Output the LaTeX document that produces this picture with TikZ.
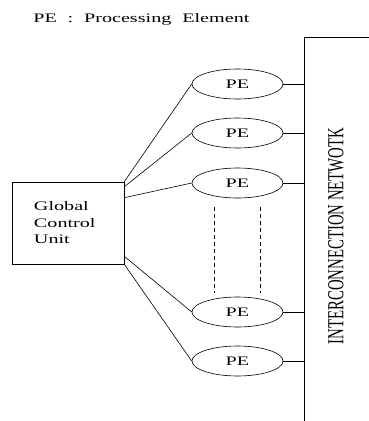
\documentclass[tikz,border=0pt]{standalone}
\usepackage{fontspec}
\setmainfont{Liberation Serif}
\usepackage{graphicx}
\usetikzlibrary{shapes.geometric, calc}
\newcommand{\widetxt}[1]{\scalebox{1.55}[1]{#1}}

\begin{document}
\begin{tikzpicture}[x=1pt, y=-1pt, line width=0.6pt,
    pe/.style={ellipse, draw, minimum width=91pt, minimum height=30pt, inner sep=0pt, font=\fontsize{13}{15}\selectfont},
    dashlink/.style={dash pattern=on 4pt off 3pt}]
  \useasboundingbox (0,0) rectangle (369,421);

  \node[anchor=base west, inner sep=0pt, font=\fontsize{13}{15}\selectfont] (title) at (33,22.7)
    {\widetxt{PE\hspace{7pt}:\hspace{7pt}Processing\hspace{7pt}Element}};

  \node[draw, minimum width=112pt, minimum height=82pt, text width=68pt, inner xsep=22pt, align=left,
        font=\fontsize{13}{16.5}\selectfont] (gcu) at (68,223)
    {\widetxt{Global}\\\widetxt{Control}\\\widetxt{Unit}};

  \foreach \i/\y in {1/84, 2/133, 3/183, 4/312, 5/361} {
    \node[pe] (pe\i) at (237.5,\y) {\widetxt{PE}};
  }

  % interconnection network
  \coordinate (nettop) at (304,37);
  \coordinate (netright) at (369,37);
  \coordinate (netbot) at (304,421);
  \draw (netright) -- (nettop) -- (netbot);
  \node[rotate=90, inner sep=0pt, font=\fontsize{14.8}{16}\selectfont] (netlabel) at (336,236)
    {\scalebox{1}[1.55]{INTERCONNECTION NETWOTK}};

  \foreach \i in {1,...,5} {
    \draw (pe\i.east) -- (pe\i.east -| nettop);
  }

  \draw (gcu.north east) -- (pe1.west);
  \draw ($(gcu.north east)+(0,5)$) -- (pe2.west);
  \draw ($(gcu.north east)+(0,16)$) -- (pe3.west);
  \draw ($(gcu.south east)+(0,-8)$) -- (pe4.west);
  \draw (gcu.south east) -- (pe5.west);

  \draw[dashlink] ($(pe3.south)+(-23.5,9)$) -- ($(pe4.north)+(-23.5,-4)$);
  \draw[dashlink] ($(pe3.south)+(22.5,9)$) -- ($(pe4.north)+(22.5,-4)$);
\end{tikzpicture}
\end{document}
